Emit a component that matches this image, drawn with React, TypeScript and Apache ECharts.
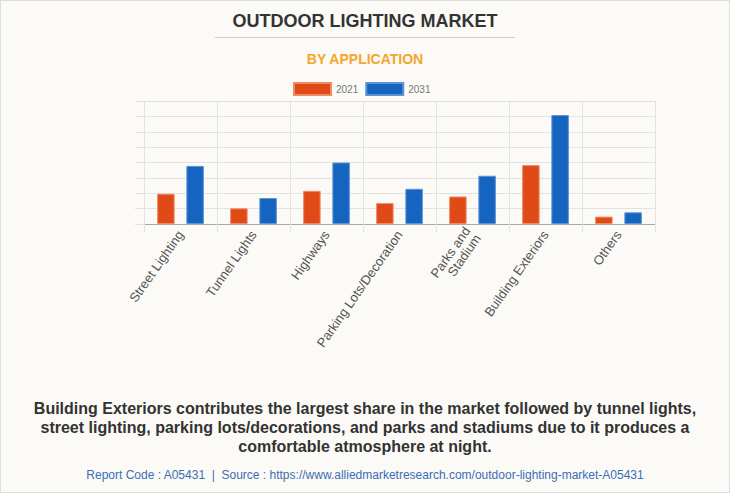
import React, { useEffect, useRef } from "react";
import * as echarts from "echarts";

const categories = [
  "Street Lighting",
  "Tunnel Lights",
  "Highways",
  "Parking Lots/Decoration",
  "Parks and\nStadium",
  "Building Exteriors",
  "Others",
];
const values2021 = [1.97, 1.02, 2.16, 1.36, 1.79, 3.83, 0.48];
const values2031 = [3.78, 1.69, 4.0, 2.29, 3.14, 7.09, 0.76];
const seriesNames = ["2021", "2031"];

const titleText = "OUTDOOR LIGHTING MARKET";
const subtitleText = "BY APPLICATION";
const noteText =
  "Building Exteriors contributes the largest share in the market followed by tunnel lights,\nstreet lighting, parking lots/decorations, and parks and stadiums due to it produces a\ncomfortable atmosphere at night.";
const sourceText =
  "Report Code : A05431  |  Source : https://www.alliedmarketresearch.com/outdoor-lighting-market-A05431";

export default function App() {
  const ref = useRef<HTMLDivElement>(null);
  useEffect(() => {
    if (!ref.current) return;
    const chart = echarts.init(ref.current, null, { renderer: "svg" });
    const font = "Liberation Sans, Arial, sans-serif";
    chart.setOption({
      animation: false,
      backgroundColor: "#FBFAF6",
      textStyle: { fontFamily: font },
      legend: {
        data: seriesNames,
        left: 292,
        top: 81,
        padding: 0,
        icon: "rect",
        itemWidth: 37,
        itemHeight: 12,
        itemGap: 7,
        textStyle: { fontSize: 10, color: "#777", fontFamily: font },
      },
      grid: { left: 143, right: 74, top: 100, bottom: 268, containLabel: false },
      xAxis: {
        type: "category",
        data: categories,
        axisLine: { lineStyle: { color: "#aaa", width: 1 } },
        axisTick: { show: true, length: 8, lineStyle: { color: "#e2e2e2" } },
        splitLine: { show: true, lineStyle: { color: "#e2e2e2" } },
        axisLabel: {
          rotate: 55,
          fontSize: 13,
          color: "#555",
          margin: 8,
          fontFamily: font,
          interval: 0,
        },
      },
      yAxis: {
        type: "value",
        min: 0,
        max: 8,
        interval: 1,
        axisLabel: { show: false },
        axisLine: { show: false },
        axisTick: { show: true, length: 9, lineStyle: { color: "#e2e2e2" } },
        splitLine: { show: true, lineStyle: { color: "#e2e2e2" } },
      },
      series: [
        {
          name: seriesNames[0],
          type: "bar",
          data: values2021,
          barWidth: 17.5,
          barGap: "67%",
          itemStyle: { color: "#E04A17", borderColor: "#F08A66", borderWidth: 1 },
        },
        {
          name: seriesNames[1],
          type: "bar",
          data: values2031,
          barWidth: 17.5,
          itemStyle: { color: "#1565C0", borderColor: "#5C93D6", borderWidth: 1 },
        },
      ],
      graphic: [
        {
          type: "text",
          x: 364,
          y: 20,
          style: {
            text: titleText,
            fontSize: 18,
            fontWeight: "bold",
            fill: "#333",
            fontFamily: font,
            textAlign: "center",
            textVerticalAlign: "middle",
          },
        },
        {
          type: "line",
          shape: { x1: 214, y1: 36.5, x2: 514, y2: 36.5 },
          style: { stroke: "#cccccc", lineWidth: 1 },
        },
        {
          type: "text",
          x: 364,
          y: 58,
          style: {
            text: subtitleText,
            fontSize: 14,
            fontWeight: "bold",
            fill: "#F5A62A",
            fontFamily: font,
            textAlign: "center",
            textVerticalAlign: "middle",
          },
        },
        {
          type: "text",
          x: 364,
          y: 426,
          style: {
            text: noteText,
            fontSize: 16,
            lineHeight: 19,
            fontWeight: "bold",
            fill: "#333",
            fontFamily: font,
            textAlign: "center",
            textVerticalAlign: "middle",
          },
        },
        {
          type: "text",
          x: 364,
          y: 474,
          style: {
            text: sourceText,
            fontSize: 12,
            fill: "#3C6EB4",
            fontFamily: font,
            textAlign: "center",
            textVerticalAlign: "middle",
          },
        },
      ],
    });
    return () => chart.dispose();
  }, []);
  return (
    <div
      style={{
        position: "fixed",
        left: 0,
        top: 0,
        width: 730,
        height: 493,
        boxSizing: "border-box",
        border: "1px solid #dddddd",
        background: "#FBFAF6",
      }}
    >
      <div ref={ref} style={{ width: 728, height: 491 }} />
    </div>
  );
}
